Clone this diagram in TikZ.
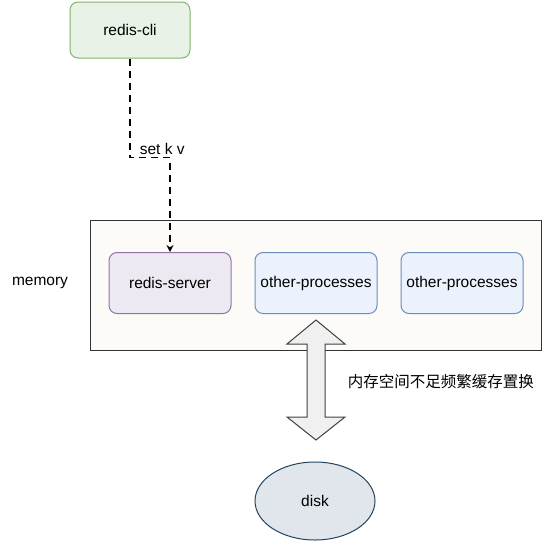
\documentclass[tikz,border=0pt]{standalone}
\usepackage{fontspec}
\setmainfont{Liberation Sans}
\newfontfamily\cjk{Noto Sans CJK SC}
\usepackage{tikz}
\usetikzlibrary{positioning,arrows.meta,calc,shapes.geometric}
\definecolor{cliline}{HTML}{82B366}
\definecolor{clifill}{HTML}{D5E8D4}
\definecolor{srvline}{HTML}{9673A6}
\definecolor{srvfill}{HTML}{E1D5E7}
\definecolor{procline}{HTML}{6C8EBF}
\definecolor{procfill}{HTML}{DAE8FC}
\definecolor{memfill}{HTML}{F9F7ED}
\definecolor{diskline}{HTML}{23445D}
\definecolor{diskfill}{HTML}{BAC8D3}

\begin{document}
\begin{tikzpicture}[
    x=1pt, y=-1pt,
    >=Stealth,
    font=\fontsize{15.5}{18}\selectfont,
    every path/.style={line width=1pt},
    block/.style={
        draw,
        rounded corners=8pt,
        minimum width=122pt,
        minimum height=61pt,
        line width=1pt,
        align=center
    },
    greenblock/.style={block, draw=cliline, fill=clifill!55, minimum width=120pt, minimum height=56pt},
    purpleblock/.style={block, draw=srvline, fill=srvfill!55},
    blueblock/.style={block, draw=procline, fill=procfill!55},
    annot/.style={align=center}
]
\useasboundingbox (0,0) rectangle (551,541);

% memory area
\node[draw=black!80, fill=memfill!45, minimum width=451pt, minimum height=130pt,
      inner sep=0pt] (mem) at (315.5,285) {};
\node[annot] (memlabel) at (40,283) {memory};

\node[greenblock] (cli) at (130,30) {redis-cli};
\node[purpleblock] (srv) at (170,283) {redis-server};
\node[blueblock, right=23pt of srv] (proc1) {other-processes};
\node[blueblock, right=23pt of proc1] (proc2) {other-processes};

\node[ellipse, draw=diskline, fill=diskfill!45, minimum width=120pt,
      minimum height=78pt, inner sep=0pt] (disk) at (315,501) {disk};

% request from the client
\coordinate (bend) at ($(cli.south)+(0,99)$);
\draw[line width=1.3pt, dash pattern=on 7pt off 5pt,
      -{Stealth[open,length=7pt,width=7pt]}] (cli.south) -- (bend) -| (srv.north);
\node[annot, anchor=south west] (setkv) at ([xshift=6pt,yshift=-1pt]bend) {set k v};

% swapping between memory and disk
\coordinate (swap) at (316,380);
\draw[black!75, fill=white!94!black]
    ($(swap)+(0,-60)$) -- ++(29,24) -- ++(-20,0) -- ++(0,73) -- ++(20,0)
    -- ++(-29,23) -- ++(-29,-23) -- ++(20,0) -- ++(0,-73) -- ++(-20,0) -- cycle;
\node[annot, anchor=west, font=\cjk\fontsize{15.5}{18}\selectfont] (swaplabel)
    at ($(swap)+(28,2)$) {内存空间不足频繁缓存置换};

\end{tikzpicture}
\end{document}
